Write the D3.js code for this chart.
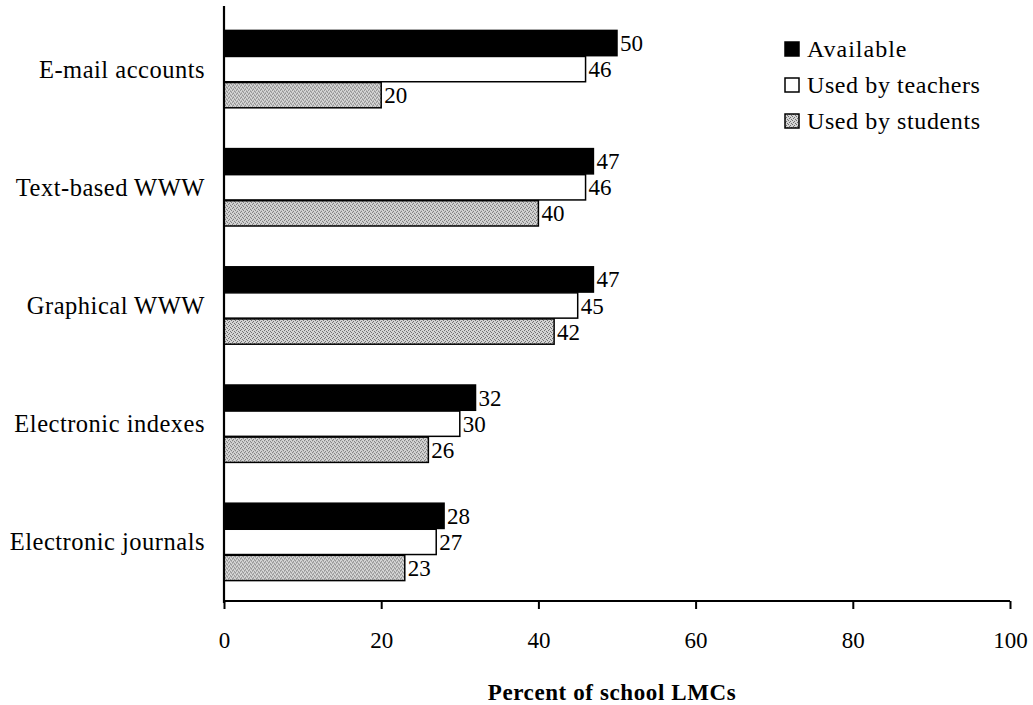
<!DOCTYPE html>
<html>
<head>
<meta charset="utf-8">
<script src="https://cdn.jsdelivr.net/npm/d3@7"></script>
<style>
  html, body { margin: 0; padding: 0; background: #fff; }
  svg { display: block; }
  text { font-family: "Liberation Serif", "Times New Roman", serif; fill: #000; }
</style>
</head>
<body>
<svg id="chart" width="1033" height="705"></svg>
<script>
const categories = ["E-mail accounts", "Text-based WWW", "Graphical WWW", "Electronic indexes", "Electronic journals"];
const seriesNames = ["Available", "Used by teachers", "Used by students"];
const available = [50, 47, 47, 32, 28];
const usedByTeachers = [46, 46, 45, 30, 27];
const usedByStudents = [20, 40, 42, 26, 23];
const xTicks = [0, 20, 40, 60, 80, 100];
const xTitle = "Percent of school LMCs";

const seriesValues = [available, usedByTeachers, usedByStudents];
const svg = d3.select("#chart");

// pattern for students
const defs = svg.append("defs");
const pat = defs.append("pattern").attr("id", "stipple")
  .attr("width", 4).attr("height", 4).attr("patternUnits", "userSpaceOnUse");
pat.append("rect").attr("width", 4).attr("height", 4).attr("fill", "#d4d4d4");
[[0,0],[2,1],[1,3],[3,2]].forEach(([px,py]) => {
  pat.append("rect").attr("x", px).attr("y", py).attr("width", 1).attr("height", 1).attr("fill", "#707070");
});

const fills = ["#000", "#fff", "url(#stipple)"];

const x = d3.scaleLinear().domain([0, 100]).range([224, 1010]);
const y = d3.scaleBand().domain(categories).range([10, 601]).paddingInner(0.332).paddingOuter(0.166);
const ySub = d3.scaleBand().domain(d3.range(3)).range([0, y.bandwidth()]).padding(0.03);

// bars
const groups = svg.append("g").selectAll("g").data(categories).join("g")
  .attr("transform", d => `translate(0,${y(d)})`);

seriesValues.forEach((vals, si) => {
  groups.append("rect")
    .attr("x", x(0))
    .attr("y", ySub(si))
    .attr("width", (d, i) => x(vals[i]) - x(0))
    .attr("height", ySub.bandwidth())
    .attr("fill", fills[si])
    .attr("stroke", "#000")
    .attr("stroke-width", 1.5);
  groups.append("text")
    .attr("x", (d, i) => x(vals[i]) + 3)
    .attr("y", ySub(si) + ySub.bandwidth() / 2)
    .attr("dy", "0.35em")
    .attr("font-size", 23)
    .text((d, i) => vals[i]);
});

// category labels
svg.append("g").selectAll("text").data(categories).join("text")
  .attr("x", 205)
  .attr("y", d => y(d) + y.bandwidth() / 2)
  .attr("dy", "0.35em")
  .attr("text-anchor", "end")
  .attr("font-size", 24.5)
  .attr("letter-spacing", 0.5)
  .text(d => d);

// y axis line
svg.append("line").attr("x1", x(0)).attr("x2", x(0)).attr("y1", 6).attr("y2", 603)
  .attr("stroke", "#000").attr("stroke-width", 2.2);

// x axis
const xAxis = d3.axisBottom(x).tickValues(xTicks).tickSize(8).tickPadding(23).tickFormat(d3.format("d"));
const gx = svg.append("g").attr("transform", "translate(0,601)").call(xAxis);
gx.select(".domain").attr("stroke", "#000").attr("stroke-width", 2.2).attr("d", `M${x(0)},0H${x(100)}`);
gx.selectAll(".tick line").attr("stroke", "#000").attr("stroke-width", 2);
gx.selectAll(".tick text").attr("font-size", 23).attr("font-family", "Liberation Serif, serif").attr("fill", "#000");

svg.append("text").attr("x", 612).attr("y", 700).attr("text-anchor", "middle")
  .attr("font-size", 23).attr("font-weight", "bold").attr("letter-spacing", 0.6).text(xTitle);

// legend
const legend = svg.append("g").attr("transform", "translate(785,42)");
seriesNames.forEach((name, i) => {
  const g = legend.append("g").attr("transform", `translate(0,${i * 36})`);
  g.append("rect").attr("x", 0).attr("y", 0).attr("width", 14).attr("height", 14)
    .attr("fill", fills[i]).attr("stroke", "#000").attr("stroke-width", 1.5);
  g.append("text").attr("x", 22).attr("y", 7).attr("dy", "0.35em").attr("font-size", 24)
    .attr("letter-spacing", i === 0 ? 1.0 : 0.6).text(name);
});
</script>
</body>
</html>
